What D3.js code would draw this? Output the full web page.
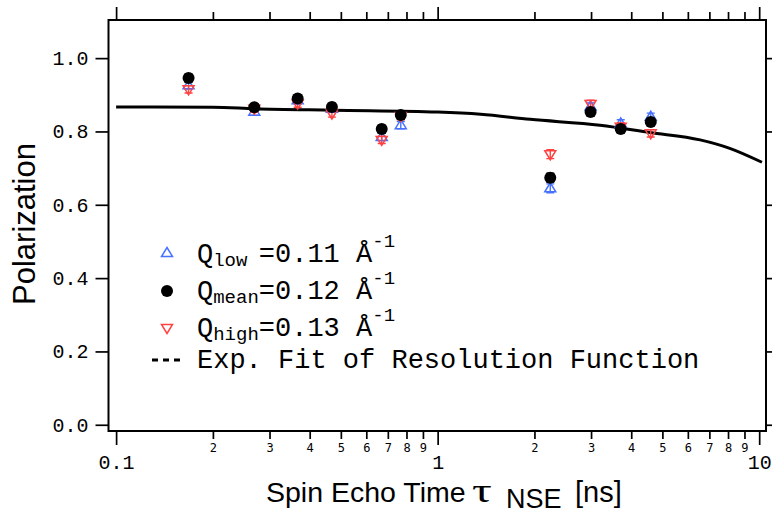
<!DOCTYPE html>
<html><head><meta charset="utf-8">
<script src="https://cdn.jsdelivr.net/npm/d3@7"></script>
<style>body{margin:0;background:#fff}svg{display:block}</style>
</head><body><svg id="c" width="772" height="514"></svg>
<script>
// ---- data ----
const times = [0.168, 0.269, 0.367, 0.469, 0.67, 0.768, 2.24, 2.99, 3.71, 4.6];
const pLow  = [0.926, 0.854, 0.885, 0.862, 0.785, 0.817, 0.645, 0.868, 0.822, 0.840];
const pMean = [0.946, 0.866, 0.890, 0.867, 0.807, 0.845, 0.674, 0.853, 0.807, 0.826];
const pHigh = [0.915, 0.862, 0.876, 0.849, 0.777, 0.842, 0.738, 0.875, 0.813, 0.795];
const errLow  = [0.010, 0.010, 0.010, 0.010, 0.010, 0.010, 0.012, 0.010, 0.010, 0.010];
const errMean = [0.010, 0.010, 0.010, 0.010, 0.010, 0.010, 0.012, 0.010, 0.010, 0.010];
const errHigh = [0.010, 0.010, 0.010, 0.010, 0.010, 0.010, 0.012, 0.010, 0.010, 0.010];
const fitX = [0.1, 0.2, 0.27, 0.475, 1.0, 1.36, 1.94, 3.2, 4.58, 6.55, 8.1, 10.2];
const fitY = [0.867, 0.866, 0.862, 0.858, 0.853, 0.847, 0.833, 0.817, 0.797, 0.777, 0.754, 0.716];
const xMajor = [0.1, 1, 10];
const xMajorLabels = ["0.1", "1", "10"];
const xMinor = [0.2,0.3,0.4,0.5,0.6,0.7,0.8,0.9,2,3,4,5,6,7,8,9];
const xMinorLabels = ["2","3","4","5","6","7","8","9","2","3","4","5","6","7","8","9"];
const yTicks = [0, 0.2, 0.4, 0.6, 0.8, 1.0];
const yTickLabels = ["0.0","0.2","0.4","0.6","0.8","1.0"];
const legendLabels = [
  {q:"Q", sub:"low\u00A0", val:"=0.11 Å", sup:"-1"},
  {q:"Q", sub:"mean", val:"=0.12 Å", sup:"-1"},
  {q:"Q", sub:"high", val:"=0.13 Å", sup:"-1"}
];
const fitLabel = "Exp. Fit of Resolution Function";

// ---- setup ----
const BLUE = "#4672ff", RED = "#ff4242";
const MONO = "'Liberation Mono', 'DejaVu Sans Mono', monospace";
const SANS = "'Liberation Sans', Arial, sans-serif";
const L = 108.5, R = 766, T = 20, B = 431;
const svg = d3.select("#c");
const x = d3.scaleLog().domain([0.0947, 10.5]).range([L, R]);
const y = d3.scaleLinear().domain([-0.017, 1.104]).range([B, T]);

function styleAxis(g, fs, ff) {
  g.select(".domain").remove();
  g.selectAll(".tick line").attr("stroke", "#000").attr("stroke-width", 1.7);
  g.selectAll(".tick text").attr("fill", "#000").attr("font-family", ff).attr("font-size", fs);
}

// bottom
svg.append("g").attr("transform", `translate(0,${B})`)
  .call(d3.axisBottom(x).tickValues(xMajor).tickSize(14).tickPadding(10).tickFormat((d,i)=>xMajorLabels[i]))
  .call(g => styleAxis(g, 20, MONO));
svg.append("g").attr("transform", `translate(0,${B})`)
  .call(d3.axisBottom(x).tickValues(xMinor).tickSize(8).tickPadding(4).tickFormat((d,i)=>xMinorLabels[i]))
  .call(g => styleAxis(g, 12, "'DejaVu Sans Mono', monospace"));
// top
svg.append("g").attr("transform", `translate(0,${T})`)
  .call(d3.axisTop(x).tickValues(xMajor).tickSize(13).tickFormat(""))
  .call(g => styleAxis(g, 10, MONO));
svg.append("g").attr("transform", `translate(0,${T})`)
  .call(d3.axisTop(x).tickValues(xMinor).tickSize(8).tickFormat(""))
  .call(g => styleAxis(g, 10, MONO));
// left
svg.append("g").attr("transform", `translate(${L},0)`)
  .call(d3.axisLeft(y).tickValues(yTicks).tickSize(13).tickPadding(7).tickFormat((d,i)=>yTickLabels[i]))
  .call(g => styleAxis(g, 20, MONO));
// right
svg.append("g").attr("transform", `translate(${R},0)`)
  .call(d3.axisRight(y).tickValues(yTicks).tickSize(13).tickFormat(""))
  .call(g => styleAxis(g, 10, MONO));

// frame
svg.append("rect").attr("x", L).attr("y", T).attr("width", R - L).attr("height", B - T)
  .attr("fill", "none").attr("stroke", "#000").attr("stroke-width", 2);

// fit line
const fit = fitX.map((t,i)=>[t, fitY[i]]);
svg.append("path").datum(fit)
  .attr("d", d3.line().x(d=>x(d[0])).y(d=>y(d[1])).curve(d3.curveMonotoneX))
  .attr("fill", "none").attr("stroke", "#000").attr("stroke-width", 3);

// markers
const triUp = "M-5.5,3.5L5.5,3.5L0,-5.5Z";
const triDown = "M-5.5,-3.5L5.5,-3.5L0,5.5Z";
function errBars(vals, errs, color) {
  const g = svg.append("g").attr("stroke", color).attr("stroke-width", 1.4).attr("fill", "none");
  const d = times.map((t,i)=>({t, v: vals[i], e: errs[i]}));
  g.selectAll("path.eb").data(d).join("path")
    .attr("d", p => {
      const cx = x(p.t), y1 = y(p.v - p.e), y2 = y(p.v + p.e);
      return `M${cx},${y1}L${cx},${y2}M${cx-4},${y1}L${cx+4},${y1}M${cx-4},${y2}L${cx+4},${y2}`;
    });
  return d;
}
const dLow = errBars(pLow, errLow, BLUE);
svg.append("g").selectAll("path").data(dLow).join("path")
  .attr("transform", p => `translate(${x(p.t)},${y(p.v)})`).attr("d", triUp)
  .attr("fill", "none").attr("stroke", BLUE).attr("stroke-width", 1.5);
const dHigh = errBars(pHigh, errHigh, RED);
svg.append("g").selectAll("path").data(dHigh).join("path")
  .attr("transform", p => `translate(${x(p.t)},${y(p.v)})`).attr("d", triDown)
  .attr("fill", "none").attr("stroke", RED).attr("stroke-width", 1.5);
const dMean = errBars(pMean, errMean, "#000");
svg.append("g").selectAll("circle").data(dMean).join("circle")
  .attr("cx", p => x(p.t)).attr("cy", p => y(p.v)).attr("r", 6).attr("fill", "#000");

// legend
const lg = svg.append("g");
lg.append("path").attr("transform", "translate(167,253)").attr("d", triUp)
  .attr("fill", "none").attr("stroke", BLUE).attr("stroke-width", 1.5);
lg.append("circle").attr("cx", 167).attr("cy", 291).attr("r", 6).attr("fill", "#000");
lg.append("path").attr("transform", "translate(167,328)").attr("d", triDown)
  .attr("fill", "none").attr("stroke", RED).attr("stroke-width", 1.5);
lg.append("line").attr("x1", 152).attr("x2", 184).attr("y1", 360).attr("y2", 360)
  .attr("stroke", "#000").attr("stroke-width", 3).attr("stroke-dasharray", "6,5");
const baselines = [262, 299, 336];
legendLabels.forEach((lab, i) => {
  const t = lg.append("text").attr("x", 197).attr("y", baselines[i])
    .attr("font-family", MONO).attr("font-size", 27).attr("fill", "#000");
  t.append("tspan").text(lab.q);
  t.append("tspan").attr("font-size", 19).attr("dy", 4).text(lab.sub);
  t.append("tspan").attr("dy", -4).text(lab.val);
  t.append("tspan").attr("font-size", 19).attr("dy", -15).text(lab.sup);
});
lg.append("text").attr("x", 197).attr("y", 368)
  .attr("font-family", MONO).attr("font-size", 27).attr("fill", "#000").text(fitLabel);

// axis titles
svg.append("text").attr("transform", "translate(35,224) rotate(-90)")
  .attr("text-anchor", "middle").attr("font-family", SANS).attr("font-size", 31)
  .attr("fill", "#000").text("Polarization");
const xt = svg.append("text").attr("y", 502).attr("font-family", SANS).attr("font-size", 28.5).attr("fill", "#000");
xt.append("tspan").attr("x", 266).text("Spin Echo Time");
xt.append("tspan").attr("x", 506).attr("dy", 6).attr("font-size", 27).text("NSE");
xt.append("tspan").attr("x", 575).attr("dy", -6).attr("font-size", 29).text("[ns]");
svg.append("text").attr("transform", "translate(472,502) scale(1.45,1)")
  .attr("font-family", "'Liberation Serif', 'DejaVu Serif', serif").attr("font-size", 34).attr("fill", "#000").text("τ");
</script></body></html>
